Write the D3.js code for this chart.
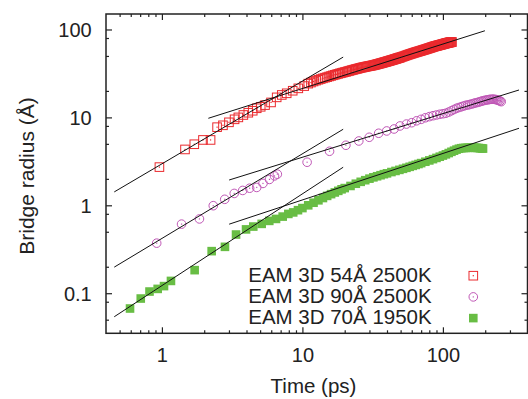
<!DOCTYPE html>
<html>
<head>
<meta charset="utf-8">
<script src="https://cdn.jsdelivr.net/npm/d3@7"></script>
<style>
  body { margin: 0; background: #fff; }
  svg { display: block; font-family: "Liberation Sans", Arial, Helvetica, sans-serif; }
  .axis text { font-size: 20px; fill: #222; }
  .axis line { stroke: #222; stroke-width: 1.2; }
  .axis path.domain { display: none; }
  .axis-title { font-size: 20.5px; fill: #222; }
  .legend-label { font-size: 20.5px; fill: #222; }
</style>
</head>
<body>
<svg id="chart"></svg>
<script>
// ---- data (time in ps, bridge radius in Angstrom) ----
const xDomain = [0.4, 400];
const yDomain = [0.035, 150];

const xTicks = [1, 10, 100];
const xTickLabels = ['1', '10', '100'];
const xMinorTicks = [0.5, 0.6, 0.7, 0.8, 0.9, 2, 3, 4, 5, 6, 7, 8, 9, 20, 30, 40, 50, 60, 70, 80, 90, 200, 300];
const yTicks = [0.1, 1, 10, 100];
const yTickLabels = ['0.1', '1', '10', '100'];
const yMinorTicks = [0.05, 0.08, 0.2, 0.5, 0.8, 2, 5, 8, 20, 50, 80];

const seriesNames = ['EAM 3D 54Å 2500K', 'EAM 3D 90Å 2500K', 'EAM 3D 70Å 1950K'];
const seriesColors = ['#ea2a2e', '#c057b6', '#68bd44'];
const seriesShapes = ['square', 'circle', 'filled'];

// 54 Å, 2500 K
const red54 = [
  [0.96, 2.72], [1.46, 4.32], [1.70, 4.95], [1.96, 5.54], [2.22, 5.54], [2.47, 7.74], [2.72, 8.13],
  [3.00, 8.79], [3.29, 9.51], [3.50, 10.0], [3.80, 10.65], [4.12, 11.3], [4.43, 11.9], [4.73, 12.7],
  [5.05, 13.2], [5.42, 13.8], [5.98, 14.8], [6.56, 16.9], [7.13, 18.0], [7.73, 18.8], [8.53, 20.1],
  [9.35, 21.4], [10.3, 22.7], [11, 24.2], [11.5, 24.9], [12, 25.6], [12.5, 26.2], [13, 26.8],
  [13.5, 27.3], [14, 27.8], [14.5, 28.3], [15, 28.7], [15.5, 29.2], [16, 29.6], [16.5, 30.1],
  [17, 30.5], [17.5, 30.9], [18, 31.3], [18.5, 31.7], [19, 32.0], [19.5, 32.4], [20, 32.7],
  [20.5, 33.05], [21, 33.4], [21.5, 33.75], [22, 34.1], [22.5, 34.45], [23, 34.8], [23.5, 35.1],
  [24, 35.4], [24.5, 35.7], [25, 36.0], [25.5, 36.3], [26, 36.6], [26.5, 36.85], [27, 37.1],
  [27.5, 37.35], [28, 37.6], [28.5, 37.8], [29, 38.0], [29.5, 38.2], [30, 38.4], [30.5, 38.6],
  [31, 38.8], [31.5, 39.0], [32, 39.2], [32.5, 39.45], [33, 39.7], [33.5, 39.95], [34, 40.2],
  [34.5, 40.45], [35, 40.7], [35.5, 40.95], [36, 41.2], [36.5, 41.45], [37, 41.7], [37.5, 41.95],
  [38, 42.2], [38.5, 42.45], [39, 42.7], [39.5, 42.95], [40, 43.2], [40.5, 43.45], [41, 43.7],
  [41.5, 43.95], [42, 44.2], [42.5, 44.45], [43, 44.7], [43.5, 44.95], [44, 45.2], [44.5, 45.45],
  [45, 45.7], [45.5, 45.95], [46, 46.2], [46.5, 46.45], [47, 46.7], [47.5, 46.95], [48, 47.2],
  [48.5, 47.45], [49, 47.7], [49.5, 47.95], [50, 48.2], [51, 48.7], [52, 49.2], [53, 49.75],
  [54, 50.3], [55, 50.8], [56, 51.3], [57, 51.8], [58, 52.3], [59, 52.75], [60, 53.2], [61, 53.65],
  [62, 54.1], [63, 54.55], [64, 55.0], [65, 55.4], [66, 55.8], [67, 56.2], [68, 56.6], [69, 57.0],
  [70, 57.4], [71, 57.8], [72, 58.2], [73, 58.6], [74, 59.0], [75, 59.4], [76, 59.8], [77, 60.2],
  [78, 60.6], [79, 61.0], [80, 61.4], [81, 61.8], [82, 62.2], [83, 62.6], [84, 63.0], [85, 63.4],
  [86, 63.8], [87, 64.15], [88, 64.5], [89, 64.8], [90, 65.1], [91, 65.4], [92, 65.7], [93, 66.0],
  [94, 66.3], [95, 66.6], [96, 66.9], [97, 67.2], [98, 67.5], [99, 67.8], [100, 68.1], [101, 68.4],
  [102, 68.7], [103, 69.0], [104, 69.3], [105, 69.6], [106, 69.9], [107, 70.15], [108, 70.4],
  [109, 70.65], [110, 70.9], [111, 71.1], [112, 71.3], [113, 71.5], [114, 71.7], [115, 71.85],
  [116, 72.0]
];

// 90 Å, 2500 K
const pink90 = [
  [0.918, 0.371], [1.38, 0.611], [1.85, 0.70], [2.32, 0.99], [2.80, 1.17], [3.27, 1.365],
  [3.76, 1.476], [4.21, 1.564], [4.73, 1.597], [5.24, 1.774], [5.83, 1.97], [6.33, 2.16],
  [6.63, 2.26], [10.8, 3.09], [15.6, 4.12], [20.4, 4.82], [25.2, 5.39], [29.9, 5.94],
  [34.9, 6.60], [39.8, 7.01], [44.9, 7.38], [49.5, 7.99], [55, 8.4], [60, 8.7], [65, 9.15],
  [70, 9.5], [75, 9.9], [80, 10.2], [85, 10.45], [90, 10.65], [95, 10.85], [100, 11.0],
  [105, 11.15], [110, 11.5], [115, 11.9], [120, 12.3], [125, 12.7], [130, 12.95], [135, 13.2],
  [140, 13.45], [145, 13.7], [150, 13.85], [155, 14.0], [160, 14.2], [165, 14.4], [170, 14.6],
  [175, 14.75], [180, 14.95], [185, 15.15], [190, 15.35], [195, 15.5], [200, 15.65], [205, 15.8],
  [210, 15.9], [215, 16.0], [220, 16.05], [225, 16.1], [230, 16.1], [235, 16.0], [240, 15.9],
  [245, 15.75], [250, 15.55], [255, 15.35], [260, 15.1]
];

// 70 Å, 1950 K
const green70 = [
  [0.593, 0.067], [0.707, 0.087], [0.816, 0.1045], [0.933, 0.112], [1.035, 0.1205], [1.16, 0.138],
  [1.71, 0.183], [2.26, 0.301], [2.81, 0.337], [3.37, 0.465], [3.97, 0.532], [4.47, 0.573],
  [5.13, 0.615], [5.81, 0.665], [6.49, 0.70], [7.24, 0.744], [7.94, 0.798], [8.6, 0.83],
  [9.3, 0.88], [10, 0.93], [11, 1.0], [12, 1.07], [13, 1.14], [14, 1.21], [15, 1.28], [16, 1.34],
  [17, 1.40], [18, 1.46], [19, 1.52], [20, 1.57], [22, 1.66], [24, 1.76], [26, 1.85], [28, 1.93],
  [30, 2.01], [32, 2.08], [34, 2.14], [36, 2.2], [38, 2.26], [40, 2.31], [43, 2.39], [46, 2.46],
  [49, 2.53], [52, 2.60], [55, 2.67], [58, 2.74], [61, 2.81], [64, 2.88], [67, 2.95], [70, 3.02],
  [75, 3.13], [80, 3.24], [85, 3.35], [90, 3.46], [95, 3.57], [100, 3.68], [105, 3.80],
  [110, 3.93], [115, 4.06], [120, 4.18], [125, 4.30], [130, 4.40], [135, 4.46], [140, 4.49],
  [145, 4.50], [150, 4.51], [155, 4.51], [160, 4.52], [165, 4.52], [170, 4.51], [175, 4.50],
  [180, 4.48], [185, 4.46], [190, 4.44], [193, 4.42]
];

// guide lines (power-law fits), endpoints [t0, r0, t1, r1]
const fitLines = [
  [0.458, 1.42, 19.5, 48.5],
  [2.14, 9.77, 199, 96.7],
  [0.458, 0.198, 19.5, 7.33],
  [3.01, 1.94, 348, 20.5],
  [0.458, 0.054, 19.5, 2.71],
  [3.01, 0.61, 348, 7.52]
];

class LogScatter {

  constructor(_config, _series, _fits) {
    this.config = {
      parentElement: _config.parentElement,
      containerWidth: _config.containerWidth || 528,
      containerHeight: _config.containerHeight || 399,
      margin: _config.margin || {top: 14, right: 0.5, bottom: 65.7, left: 106},
      markerSize: _config.markerSize || 8.6
    }
    this.series = _series;
    this.fits = _fits;
    this.initVis();
  }

  initVis() {
    let vis = this;

    vis.width = vis.config.containerWidth - vis.config.margin.left - vis.config.margin.right;
    vis.height = vis.config.containerHeight - vis.config.margin.top - vis.config.margin.bottom;

    vis.xScale = d3.scaleLog()
        .domain(xDomain)
        .range([0, vis.width]);

    vis.yScale = d3.scaleLog()
        .domain(yDomain)
        .range([vis.height, 0]);

    vis.svg = d3.select(vis.config.parentElement)
        .attr('width', vis.config.containerWidth)
        .attr('height', vis.config.containerHeight);

    vis.chart = vis.svg.append('g')
        .attr('transform', `translate(${vis.config.margin.left},${vis.config.margin.top})`);

    // axis titles
    vis.svg.append('text')
        .attr('class', 'axis-title')
        .attr('x', 313.5)
        .attr('y', 393.3)
        .style('text-anchor', 'middle')
        .text('Time (ps)');

    vis.svg.append('text')
        .attr('class', 'axis-title')
        .attr('transform', 'translate(33.5,176) rotate(-90)')
        .style('text-anchor', 'middle')
        .style('font-size', '21px')
        .text('Bridge radius (Å)');
  }

  renderVis() {
    let vis = this;
    const s = vis.config.markerSize;

    // points, one group per series
    vis.series.forEach(ser => {
      const g = vis.chart.append('g').attr('class', 'series');
      const pts = g.selectAll('.point')
          .data(ser.values)
        .join('g')
          .attr('class', 'point')
          .attr('transform', d => `translate(${vis.xScale(d[0])},${vis.yScale(d[1])})`);
      vis.drawMarker(pts, ser.shape, ser.color, s);
    });

    // fitted lines on top
    vis.chart.selectAll('.fit')
        .data(vis.fits)
      .join('line')
        .attr('class', 'fit')
        .attr('x1', d => vis.xScale(d[0]))
        .attr('y1', d => vis.yScale(d[1]))
        .attr('x2', d => vis.xScale(d[2]))
        .attr('y2', d => vis.yScale(d[3]))
        .attr('stroke', '#111')
        .attr('stroke-width', 1);

    // ticks: major + minor on all four sides, pointing inwards
    const mk = (axisFn, scale, values, size, fmt) => axisFn(scale)
        .tickValues(values)
        .tickSizeInner(-size)
        .tickSizeOuter(0)
        .tickFormat(fmt);

    vis.chart.append('g').attr('class', 'axis')
        .attr('transform', `translate(0,${vis.height})`)
        .call(mk(d3.axisBottom, vis.xScale, xTicks, 6, (d, i) => xTickLabels[i]))
        .call(g => g.selectAll('text').attr('y', 28.4).attr('dy', null));
    vis.chart.append('g').attr('class', 'axis')
        .attr('transform', `translate(0,${vis.height})`)
        .call(mk(d3.axisBottom, vis.xScale, xMinorTicks, 3, ''));
    vis.chart.append('g').attr('class', 'axis')
        .call(mk(d3.axisTop, vis.xScale, xTicks, 6, ''));
    vis.chart.append('g').attr('class', 'axis')
        .call(mk(d3.axisTop, vis.xScale, xMinorTicks, 3, ''));

    vis.chart.append('g').attr('class', 'axis')
        .call(mk(d3.axisLeft, vis.yScale, yTicks, 6, (d, i) => yTickLabels[i]))
        .call(g => g.selectAll('text').attr('x', -14.3).attr('dy', '0.37em'));
    vis.chart.append('g').attr('class', 'axis')
        .call(mk(d3.axisLeft, vis.yScale, yMinorTicks, 3, ''));
    vis.chart.append('g').attr('class', 'axis')
        .attr('transform', `translate(${vis.width},0)`)
        .call(mk(d3.axisRight, vis.yScale, yTicks, 6, ''));
    vis.chart.append('g').attr('class', 'axis')
        .attr('transform', `translate(${vis.width},0)`)
        .call(mk(d3.axisRight, vis.yScale, yMinorTicks, 3, ''));

    // border
    vis.chart.append('rect')
        .attr('width', vis.width)
        .attr('height', vis.height)
        .attr('fill', 'none')
        .attr('stroke', '#222')
        .attr('stroke-width', 1.5);

    // legend (right-justified labels, symbols on the right)
    const legend = vis.chart.selectAll('.legend-row')
        .data(vis.series)
      .join('g')
        .attr('class', 'legend-row')
        .attr('transform', (d, i) => `translate(0,${267.7 + i * 21.2})`);

    legend.append('text')
        .attr('class', 'legend-label')
        .attr('x', 325.7)
        .style('text-anchor', 'end')
        .text(d => d.name);

    legend.each(function(d) {
      const m = d3.select(this).append('g').attr('transform', 'translate(367.3,-6)');
      vis.drawMarker(m, d.shape, d.color, s);
    });
  }

  drawMarker(sel, shape, color, s) {
    if (shape === 'circle') {
      sel.append('circle')
          .attr('r', s / 2)
          .attr('fill', 'none')
          .attr('stroke', color)
          .attr('stroke-width', 1);
    } else {
      sel.append('rect')
          .attr('x', -s / 2).attr('y', -s / 2)
          .attr('width', s).attr('height', s)
          .attr('fill', shape === 'filled' ? color : 'none')
          .attr('stroke', shape === 'filled' ? 'none' : color)
          .attr('stroke-width', 1);
    }
    // gnuplot-style centre dot
    sel.append('rect')
        .attr('x', -0.6).attr('y', -0.6)
        .attr('width', 1.2).attr('height', 1.2)
        .attr('fill', color);
  }
}

const seriesData = [red54, pink90, green70].map((values, i) => ({
  name: seriesNames[i],
  color: seriesColors[i],
  shape: seriesShapes[i],
  values: values
}));

const chart = new LogScatter({parentElement: '#chart'}, seriesData, fitLines);
chart.renderVis();
</script>
</body>
</html>
